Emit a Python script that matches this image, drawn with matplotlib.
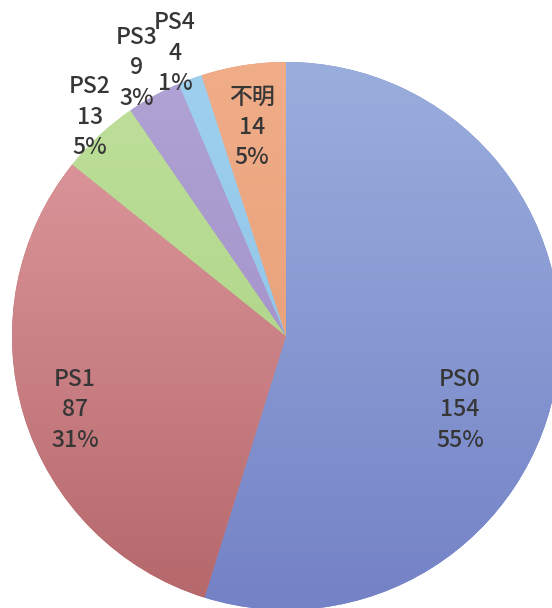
import numpy as np
import matplotlib.pyplot as plt
from matplotlib.colors import to_rgb

# Category counts
labels = ["PS0", "PS1", "PS2", "PS3", "PS4", "不明"]
counts = [154, 87, 13, 9, 4, 14]

# (top, bottom) shades for each slice's vertical gradient
shades = [("#9aaedd", "#7482c6"), ("#e29ea3", "#b5676a"), ("#bfe09c", "#a6cf7c"),
          ("#b1a3d4", "#9a88c4"), ("#9fd0ee", "#86bde4"), ("#f0ad88", "#e39a70")]

# label anchor points (pixel coords from top-left)
label_xy = [(460, 410), (75, 410), (90, 117), (137, 68), (175, 53), (252, 127)]

plt.rcParams["font.family"] = ["Noto Sans CJK JP", "DejaVu Sans"]

W, H = 552, 608
fig = plt.figure(figsize=(W / 100, H / 100), dpi=100)
ax = fig.add_axes([0, 0, 1, 1])

cx, cy, r = 286, H - 336, 274
wedges, _ = ax.pie(counts, colors=[s[1] for s in shades], startangle=90,
                   counterclock=False, center=(cx, cy), radius=r, frame=True,
                   wedgeprops=dict(linewidth=0))

# shade each slice light at the top, darker towards the bottom
t = np.linspace(0, 1, 256)[:, None]
for w, (top, bot) in zip(wedges, shades):
    c0, c1 = np.array(to_rgb(bot)), np.array(to_rgb(top))
    grad = (c0 + (c1 - c0) * t)[:, None, :]
    im = ax.imshow(grad, extent=(cx - r, cx + r, cy - r, cy + r), origin="lower",
                   aspect="auto", zorder=w.get_zorder() + 0.1, interpolation="bilinear")
    im.set_clip_path(w)

ax.set_xlim(0, W)
ax.set_ylim(0, H)
ax.set_aspect("equal")
ax.axis("off")

total = sum(counts)
for name, n, (x, y) in zip(labels, counts, label_xy):
    pct = round(100 * n / total)
    ax.text(x, H - y, f"{name}\n{n}\n{pct}%", ha="center", va="center",
            fontsize=16.5, fontweight="medium", color="#363636",
            linespacing=1.4, zorder=5)

fig.savefig("out.png", dpi=100, facecolor="white")
